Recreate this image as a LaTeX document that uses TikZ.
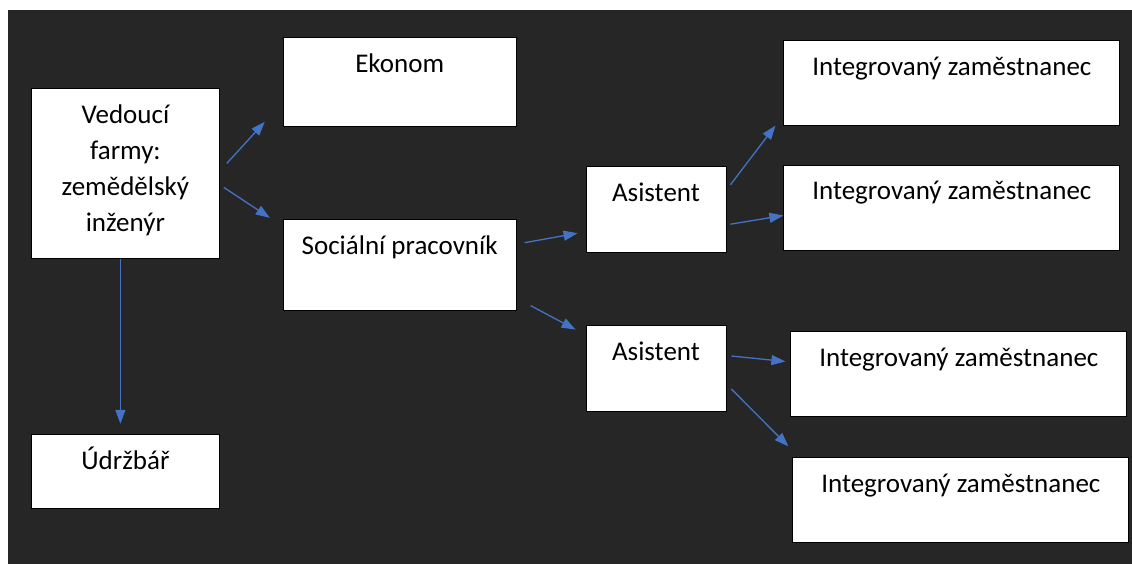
\documentclass[tikz,border=0pt]{standalone}
\usepackage{fontspec}
\setmainfont{Carlito}
\usetikzlibrary{positioning}
\usetikzlibrary{arrows.meta}
\definecolor{bgdark}{HTML}{262626}
\definecolor{arrblue}{HTML}{4472C4}

\begin{document}
\begin{tikzpicture}[x=1pt, y=-1pt]
\tikzstyle{box} = [draw=black, fill=white, line width=0.8pt, inner sep=0pt, align=center, text height=35pt, font=\fontsize{27}{36}\selectfont, anchor=north west]
\tikzstyle{line} = [draw=arrblue, line width=1.3pt, -{Triangle[length=14pt, width=10pt]}]

\fill [white] (0,0) rectangle (1132,564);
\fill [bgdark] (8,10) rectangle (1132,564);
\useasboundingbox (0,0) rectangle (1132,564);

\node [box, minimum width=188pt, minimum height=170pt, text height=143pt, text depth=27pt] (farm) at (31,88) {Vedoucí\\farmy:\\zemědělský\\inženýr};
\node [box, minimum width=233pt, minimum height=89pt, text depth=54pt, above right=51pt and 63pt of farm.north east, anchor=north west] (ekonom) {Ekonom};
\node [box, minimum width=233pt, minimum height=91pt, text depth=56pt, below=92pt of ekonom.south west, anchor=north west] (social) {Sociální pracovník};
\node [box, minimum width=188pt, minimum height=74pt, text depth=39pt, below=175pt of farm.south west, anchor=north west] (udrz) {Údržbář};
\node [box, minimum width=140pt, minimum height=86pt, text depth=51pt, above right=53pt and 69pt of social.north east, anchor=north west] (asist1) {Asistent};
\node [box, minimum width=140pt, minimum height=86pt, text depth=51pt, below=72pt of asist1.south west, anchor=north west] (asist2) {Asistent};
\node [box, minimum width=336pt, minimum height=85pt, text depth=50pt, above right=126pt and 57pt of asist1.north east, anchor=north west] (int1) {Integrovaný zaměstnanec};
\node [box, minimum width=336pt, minimum height=85pt, text depth=50pt, below=39pt of int1.south west, anchor=north west] (int2) {Integrovaný zaměstnanec};
\node [box, minimum width=336pt, minimum height=85pt, text depth=50pt, below right=6pt and 64pt of asist2.north east, anchor=north west] (int3) {Integrovaný zaměstnanec};
\node [box, minimum width=336pt, minimum height=85pt, text depth=50pt, below right=41pt and 2pt of int3.south west, anchor=north west] (int4) {Integrovaný zaměstnanec};

\path [line] ([shift={(7,-10)}]farm.east) -- ([shift={(-18,-5)}]ekonom.south west);
\path [line] ([shift={(4,14)}]farm.east) -- ([shift={(-13,-1)}]social.north west);
\path [line] ([xshift=-5pt]farm.south) -- ([shift={(-5,-10)}]udrz.north);
\path [line] ([shift={(8,-22)}]social.east) -- ([shift={(-8,24)}]asist1.west);
\path [line] ([shift={(14,-5)}]social.south east) -- ([shift={(-10,5)}]asist2.north west);
\path [line] ([shift={(4,19)}]asist1.north east) -- ([shift={(-8,0)}]int1.south west);
\path [line] ([shift={(4,15)}]asist1.east) -- ([shift={(0,8)}]int2.west);
\path [line] ([shift={(5,-12)}]asist2.east) -- ([shift={(-5,-12)}]int3.west);
\path [line] ([shift={(5,21)}]asist2.east) -- ([shift={(-4,-11)}]int4.north west);
\end{tikzpicture}
\end{document}
